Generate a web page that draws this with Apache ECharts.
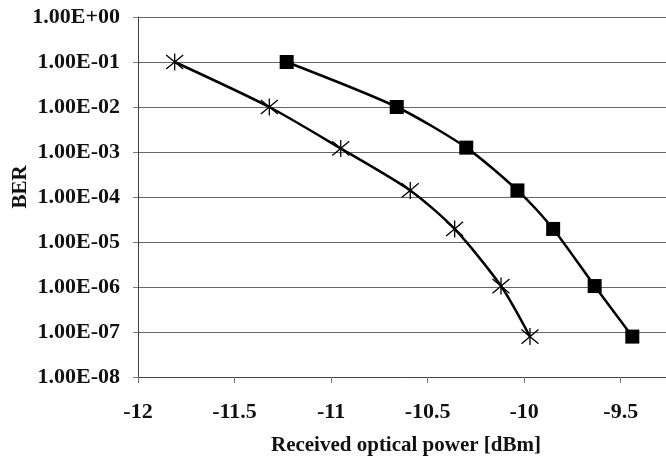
<!DOCTYPE html>
<html>
<head>
<meta charset="utf-8">
<script src="https://cdn.jsdelivr.net/npm/echarts@6/dist/echarts.min.js"></script>
<style>
  html, body { margin: 0; padding: 0; background: #fff; }
  #chart { width: 666px; height: 457px; }
</style>
</head>
<body>
<div id="chart"></div>
<script>
// received optical power [dBm] and BER
var starPower = [-11.81, -11.32, -10.95, -10.59, -10.36, -10.12, -9.97];
var starBer = [1e-1, 1e-2, 1.2e-3, 1.4e-4, 1.95e-5, 1.05e-6, 7.9e-8];
var squarePower = [-11.23, -10.66, -10.30, -10.035, -9.85, -9.635, -9.44];
var squareBer = [1e-1, 1e-2, 1.25e-3, 1.4e-4, 1.95e-5, 1.05e-6, 7.9e-8];

var fontFamily = '"Liberation Serif", "Times New Roman", serif';

function pairs(xs, ys) {
  return xs.map(function (x, i) { return [x, ys[i]]; });
}

function sciLabel(v) {
  var e = Math.round(Math.log10(v));
  var m = v / Math.pow(10, e);
  var sign = e < 0 ? '-' : '+';
  var abs = Math.abs(e);
  return m.toFixed(2) + 'E' + sign + (abs < 10 ? '0' : '') + abs;
}

var chart = echarts.init(document.getElementById('chart'));

chart.setOption({
  animation: false,
  backgroundColor: '#fff',
  grid: { left: 138, top: 17, width: 531, height: 360, outerBoundsMode: 'none', containLabel: false },
  xAxis: {
    type: 'value',
    min: -12,
    max: -9.25,
    interval: 0.5,
    name: 'Received optical power [dBm]',
    nameLocation: 'middle',
    nameGap: 58,
    nameMoveOverlap: false,
    nameTextStyle: { fontFamily: fontFamily, fontWeight: 'bold', fontSize: 21, color: '#111', padding: [0, 0, 0, 5] },
    axisLine: { lineStyle: { color: '#444', width: 1 } },
    axisTick: { show: true, length: 6, lineStyle: { color: '#777' } },
    axisLabel: {
      fontFamily: fontFamily, fontWeight: 'bold', fontSize: 22, color: '#111', margin: 24,
      showMaxLabel: false,
      formatter: function (v) { return String(v); }
    },
    splitLine: { show: false }
  },
  yAxis: {
    type: 'log',
    logBase: 10,
    min: 1e-8,
    max: 1,
    name: 'BER',
    nameLocation: 'middle',
    nameGap: 107,
    nameRotate: 90,
    nameMoveOverlap: false,
    nameTextStyle: { fontFamily: fontFamily, fontWeight: 'bold', fontSize: 21, color: '#111', padding: [0, 0, 0, 20] },
    axisLine: { show: true, lineStyle: { color: '#444', width: 1 } },
    axisTick: { show: true, length: 5, lineStyle: { color: '#777' } },
    axisLabel: {
      fontFamily: fontFamily, fontWeight: 'bold', fontSize: 22, color: '#111', margin: 18,
      formatter: sciLabel
    },
    splitLine: { show: true, lineStyle: { color: '#666', width: 1 } }
  },
  series: [
    {
      name: 'star',
      type: 'line',
      data: pairs(starPower, starBer),
      smooth: 0.25,
      symbol: 'path://M0,0L10,10M10,0L0,10M5,-1L5,11',
      symbolSize: 17,
      lineStyle: { color: '#000', width: 2.5 },
      itemStyle: { color: 'rgba(0,0,0,0)', borderColor: '#000', borderWidth: 1.3 }
    },
    {
      name: 'square',
      type: 'line',
      data: pairs(squarePower, squareBer),
      smooth: 0.25,
      symbol: 'rect',
      symbolSize: 14,
      lineStyle: { color: '#000', width: 2.5 },
      itemStyle: { color: '#000' }
    }
  ]
});
</script>
</body>
</html>
